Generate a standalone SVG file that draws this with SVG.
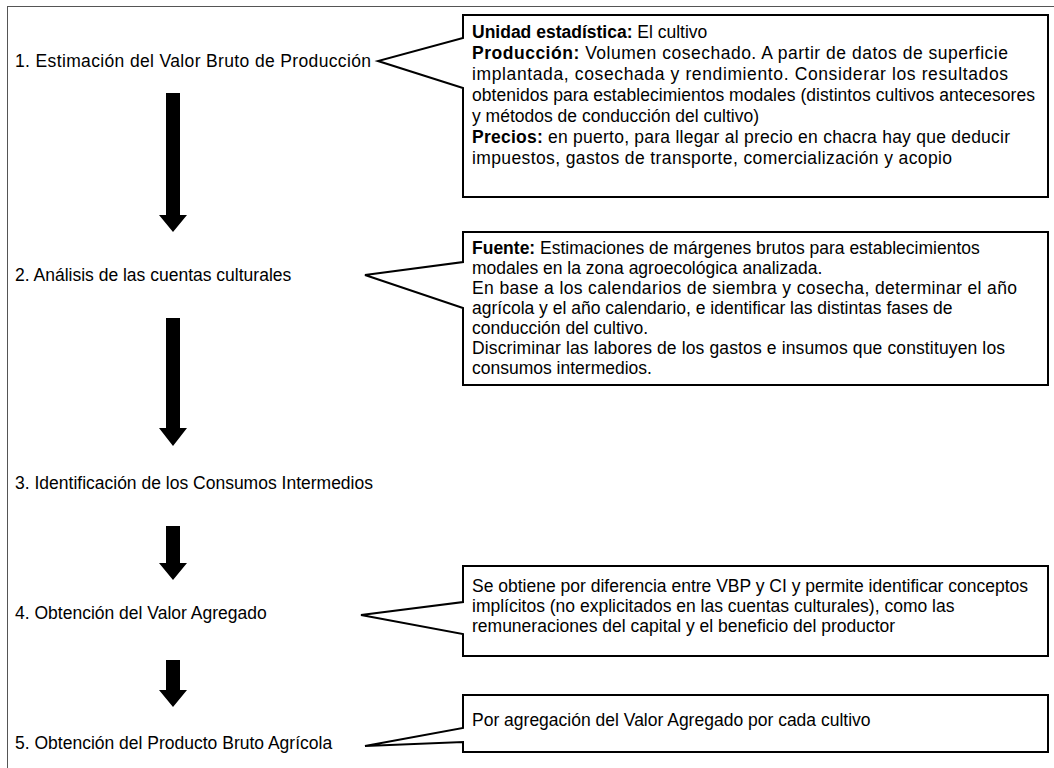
<svg xmlns="http://www.w3.org/2000/svg" width="1054" height="768" viewBox="0 0 1054 768">
<style>
text{font-family:"Liberation Sans",Arial,sans-serif;font-size:17.5px;fill:#000}
.b{font-weight:bold}
.call{fill:#fff;stroke:#000;stroke-width:2;stroke-linejoin:miter}
.arr{fill:#000;stroke:none}
</style>
<rect x="0" y="0" width="1054" height="768" fill="#fff"/>
<rect x="7.5" y="6.5" width="1100" height="800" fill="none" stroke="#555" stroke-width="1"/>
<g id="connectors">
<path class="arr" d="M166,93H180V215H187L173,232L159,215H166Z"/>
<path class="arr" d="M166,318H180V428H187L173,446L159,428H166Z"/>
<path class="arr" d="M166,526H180V563H187L173,580L159,563H166Z"/>
<path class="arr" d="M166,660H180V690H187L173,707L159,690H166Z"/>
</g>
<g id="step1"><text x="15" y="67" textLength="356" lengthAdjust="spacing">1. Estimación del Valor Bruto de Producción</text></g>
<g id="step2"><text x="15" y="281">2. Análisis de las cuentas culturales</text></g>
<g id="step3"><text x="15" y="489">3. Identificación de los Consumos Intermedios</text></g>
<g id="step4"><text x="15" y="619">4. Obtención del Valor Agregado</text></g>
<g id="step5"><text x="15" y="749">5. Obtención del Producto Bruto Agrícola</text></g>
<g id="callout1">
<path class="call" d="M463,15H1048V197H463V88L378,61L463,38Z"/>
<text x="472" y="38"><tspan class="b">Unidad estadística:</tspan> El cultivo</text>
<text x="472" y="59" textLength="536" lengthAdjust="spacing"><tspan class="b">Producción:</tspan> Volumen cosechado. A partir de datos de superficie</text>
<text x="472" y="80" textLength="536" lengthAdjust="spacing">implantada, cosechada y rendimiento. Considerar los resultados</text>
<text x="472" y="101" textLength="563" lengthAdjust="spacing">obtenidos para establecimientos modales (distintos cultivos antecesores</text>
<text x="472" y="122">y métodos de conducción del cultivo)</text>
<text x="472" y="143" textLength="538" lengthAdjust="spacing"><tspan class="b">Precios:</tspan> en puerto, para llegar al precio en chacra hay que deducir</text>
<text x="472" y="164" textLength="480" lengthAdjust="spacing">impuestos, gastos de transporte, comercialización y acopio</text>
</g>
<g id="callout2">
<path class="call" d="M463,232H1048V385H463V308L365,275L463,262Z"/>
<text x="472" y="254"><tspan class="b">Fuente:</tspan> Estimaciones de márgenes brutos para establecimientos</text>
<text x="472" y="274">modales en la zona agroecológica analizada.</text>
<text x="472" y="294" textLength="545" lengthAdjust="spacing">En base a los calendarios de siembra y cosecha, determinar el año</text>
<text x="472" y="314">agrícola y el año calendario, e identificar las distintas fases de</text>
<text x="472" y="334">conducción del cultivo.</text>
<text x="472" y="354" textLength="533" lengthAdjust="spacing">Discriminar las labores de los gastos e insumos que constituyen los</text>
<text x="472" y="374">consumos intermedios.</text>
</g>
<g id="callout3">
<path class="call" d="M463,566H1048V656H463V634L361,615L463,602Z"/>
<text x="472" y="592">Se obtiene por diferencia entre VBP y CI y permite identificar conceptos</text>
<text x="472" y="612">implícitos (no explicitados en las cuentas culturales), como las</text>
<text x="472" y="632">remuneraciones del capital y el beneficio del productor</text>
</g>
<g id="callout4">
<path class="call" d="M463,695H1048V752H463V742L365,746L463,728Z"/>
<text x="472" y="726">Por agregación del Valor Agregado por cada cultivo</text>
</g>
</svg>
